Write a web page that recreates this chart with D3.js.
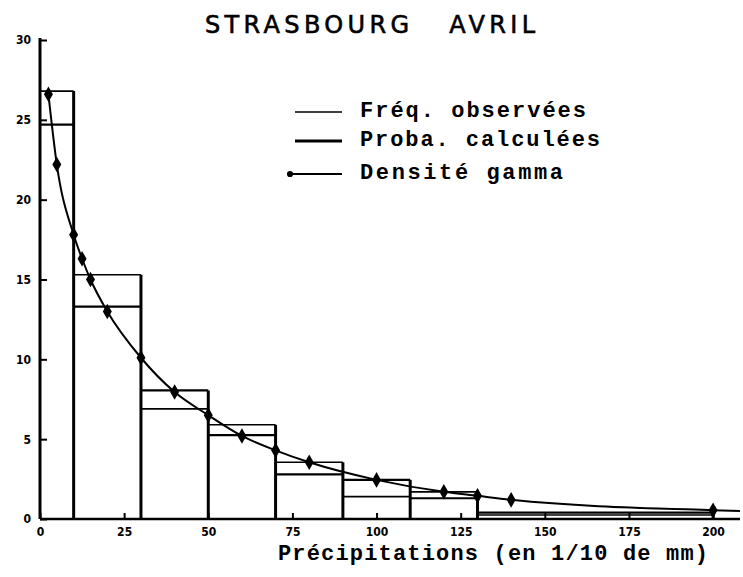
<!DOCTYPE html>
<html>
<head>
<meta charset="utf-8">
<script src="https://cdn.jsdelivr.net/npm/d3@7"></script>
<style>
  body { margin: 0; background: #fff; }
</style>
</head>
<body>
<svg></svg>
<script>
// histogram bins (1/10 mm)
var binEdges = [0, 10, 30, 50, 70, 90, 110, 130, 200];
var freqObs = [26.8, 15.3, 6.9, 5.9, 3.55, 1.4, 1.7, 0.25];
var probaCalc = [24.7, 13.3, 8.05, 5.25, 2.8, 2.45, 1.3, 0.4];

// gamma density points
var gammaX = [2.5, 5, 10, 12.5, 15, 20, 30, 40, 50, 60, 70, 80, 100, 120, 130, 140, 200, 208];
var gammaY = [26.6, 22.2, 17.8, 16.3, 15.0, 13.0, 10.1, 7.95, 6.5, 5.2, 4.3, 3.55, 2.45, 1.7, 1.45, 1.2, 0.55, 0.5];
var markerX = [2.5, 5, 10, 12.5, 15, 20, 30, 40, 50, 60, 70, 80, 100, 120, 130, 140, 200];

var xTicks = [0, 25, 50, 75, 100, 125, 150, 175, 200];
var yTicks = [0, 5, 10, 15, 20, 25, 30];

var width = 743;
var height = 577;

var svg = d3.select("svg")
            .attr("width", width)
            .attr("height", height);

var xScale = d3.scaleLinear()
               .domain([0, 208])
               .range([40, 740]);

var yScale = d3.scaleLinear()
               .domain([0, 30])
               .range([519, 40]);

// title
svg.append("text")
   .attr("x", 205)
   .attr("y", 33)
   .attr("textLength", 330)
   .attr("lengthAdjust", "spacing")
   .attr("font-family", "DejaVu Sans")
   .attr("font-size", 24)
   .attr("fill", "#000")
   .attr("stroke", "#000")
   .attr("stroke-width", 0.6)
   .style("white-space", "pre")
   .text("STRASBOURG   AVRIL");

// bars: thin = observed, thick = calculated
var bins = binEdges.slice(0, -1).map(function(e, i){
  return {x0: e, x1: binEdges[i+1], obs: freqObs[i], calc: probaCalc[i]};
});

svg.selectAll(".obs")
   .data(bins)
   .enter()
   .append("line")
   .attr("class", "obs")
   .attr("x1", function(d){ return xScale(d.x0); })
   .attr("x2", function(d){ return xScale(d.x1); })
   .attr("y1", function(d){ return yScale(d.obs); })
   .attr("y2", function(d){ return yScale(d.obs); })
   .attr("stroke", "#000")
   .attr("stroke-width", 1.6);

svg.selectAll(".calc")
   .data(bins)
   .enter()
   .append("line")
   .attr("class", "calc")
   .attr("x1", function(d){ return xScale(d.x0); })
   .attr("x2", function(d){ return xScale(d.x1); })
   .attr("y1", function(d){ return yScale(d.calc); })
   .attr("y2", function(d){ return yScale(d.calc); })
   .attr("stroke", "#000")
   .attr("stroke-width", 2.2);

// vertical edges go up to the highest neighbouring level
var edgeTops = binEdges.slice(1).map(function(e, i){
  var a = Math.max(freqObs[i], probaCalc[i]);
  var b = i + 1 < freqObs.length ? Math.max(freqObs[i+1], probaCalc[i+1]) : 0;
  return {x: e, top: Math.max(a, b)};
});

svg.selectAll(".edge")
   .data(edgeTops)
   .enter()
   .append("line")
   .attr("class", "edge")
   .attr("x1", function(d){ return xScale(d.x); })
   .attr("x2", function(d){ return xScale(d.x); })
   .attr("y1", yScale(0))
   .attr("y2", function(d){ return yScale(d.top); })
   .attr("stroke", "#000")
   .attr("stroke-width", 3);

// axes
var xAxis = d3.axisBottom(xScale)
              .tickValues(xTicks)
              .tickSizeInner(-6)
              .tickSizeOuter(0)
              .tickPadding(8);

var yAxis = d3.axisLeft(yScale)
              .tickValues(yTicks)
              .tickSizeInner(-7)
              .tickSizeOuter(0)
              .tickPadding(9);

var gx = svg.append("g")
            .attr("transform", "translate(0," + yScale(0) + ")")
            .call(xAxis);

var gy = svg.append("g")
            .attr("transform", "translate(" + xScale(0) + ",0)")
            .call(yAxis);

gx.select(".domain").attr("stroke-width", 2.5).attr("d", "M40,0H740");
gy.select(".domain").attr("stroke-width", 3).attr("d", "M0,0V-481");
gy.select(".domain").attr("transform", "translate(0," + yScale(0) + ")");

[gx, gy].forEach(function(g){
  g.selectAll(".tick line").attr("stroke-width", 2);
  g.selectAll(".tick text")
   .attr("font-family", "DejaVu Sans")
   .attr("font-weight", "bold")
   .attr("font-size", 12)
   .style("font-stretch", "condensed");
});

// gamma density curve
var gammaPts = gammaX.map(function(v, i){ return [v, gammaY[i]]; });

var line = d3.line()
             .x(function(d){ return xScale(d[0]); })
             .y(function(d){ return yScale(d[1]); })
             .curve(d3.curveMonotoneX);

svg.append("path")
   .datum(gammaPts)
   .attr("d", line)
   .attr("fill", "none")
   .attr("stroke", "#000")
   .attr("stroke-width", 2);

var markers = gammaPts.filter(function(d){ return markerX.indexOf(d[0]) >= 0; });

svg.selectAll(".mark")
   .data(markers)
   .enter()
   .append("path")
   .attr("class", "mark")
   .attr("d", d3.symbol().type(d3.symbolDiamond).size(70))
   .attr("transform", function(d){
     return "translate(" + xScale(d[0]) + "," + yScale(d[1]) + ")";
   })
   .attr("fill", "#000");

// legend
var legendLabels = ["Fréq. observées", "Proba. calculées", "Densité gamma"];
var legendLineY = [112, 141, 174];
var legendTextEnd = [586, 600, 563];
var legendStroke = [1.5, 3, 1.8];

legendLabels.forEach(function(lab, i){
  svg.append("line")
     .attr("x1", i == 2 ? 290 : 295)
     .attr("x2", 342)
     .attr("y1", legendLineY[i])
     .attr("y2", legendLineY[i])
     .attr("stroke", "#000")
     .attr("stroke-width", legendStroke[i]);
  svg.append("text")
     .attr("x", 360)
     .attr("y", legendLineY[i] + 5)
     .attr("textLength", legendTextEnd[i] - 360)
     .attr("lengthAdjust", "spacing")
     .attr("font-family", "Liberation Mono")
     .attr("font-weight", "bold")
     .attr("font-size", 22)
     .text(lab);
});

svg.append("path")
   .attr("d", d3.symbol().type(d3.symbolCircle).size(30))
   .attr("transform", "translate(290," + legendLineY[2] + ")")
   .attr("fill", "#000");

// x axis title
svg.append("text")
   .attr("x", 278)
   .attr("y", 560)
   .attr("textLength", 430)
   .attr("lengthAdjust", "spacing")
   .attr("font-family", "Liberation Mono")
   .attr("font-weight", "bold")
   .attr("font-size", 22)
   .text("Précipitations (en 1/10 de mm)");
</script>
</body>
</html>
